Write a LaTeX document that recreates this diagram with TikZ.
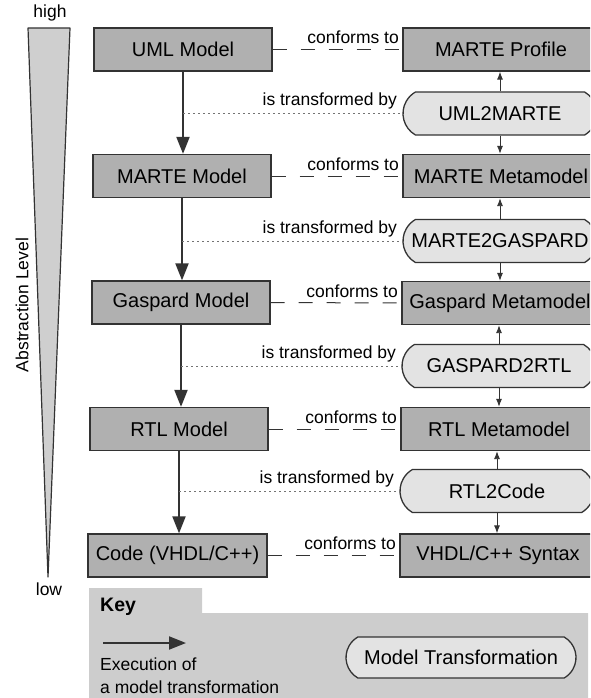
\documentclass[tikz,border=0pt]{standalone}
\usepackage{fontspec}
\setmainfont{Liberation Sans}
\usetikzlibrary{arrows.meta,shapes.misc}
\definecolor{boxgray}{HTML}{B0B0B0}
\definecolor{transgray}{HTML}{E3E3E3}
\definecolor{keygray}{HTML}{CDCDCD}
\definecolor{trigray}{HTML}{CFCFCF}
\definecolor{ink}{HTML}{333333}
\begin{document}
\begin{tikzpicture}[x=1pt,y=-1pt,
  font=\fontsize{20}{23}\selectfont,
  modelbox/.style={draw=ink, line width=1.3pt, fill=boxgray, minimum width=178pt, minimum height=43pt, inner sep=0pt},
  metabox/.style={modelbox, minimum width=196pt},
  transbox/.style={draw=ink, line width=1.3pt, fill=transgray, rounded rectangle, rounded rectangle arc length=120, minimum width=194pt, minimum height=43pt, inner sep=0pt},
  lbl/.style={font=\fontsize{17.5}{20}\selectfont, inner sep=0pt},
  exec/.style={draw=ink, line width=2pt, -{Triangle[length=17pt,width=13pt]}},
  meta/.style={draw=ink, line width=0.9pt, -{Latex[length=8pt,width=6pt]}},
  conf/.style={draw=ink, line width=1pt, dash pattern=on 14pt off 14pt},
  tdot/.style={draw=black!55, line width=1pt, dash pattern=on 2pt off 3pt},
]
\useasboundingbox (0,0) rectangle (590,698);
\clip (0,0) rectangle (590,698);

% abstraction scale
\draw[draw=ink, fill=trigray, line width=1.2pt, line join=round] (28,28) -- (70,28) -- (48,577) -- cycle;
\node[lbl] (hi) at (50,13) {high};
\node[lbl] (lo) at (49,589) {low};
\node[lbl, rotate=90] (abs) at (22,305) {Abstraction Level};

% key panel
\fill[keygray] (89,588) -- (202,588) -- (202,613) -- (588,613) -- (588,698) -- (89,698) -- cycle;
\node[anchor=base west, inner sep=0pt, font=\bfseries\fontsize{19.5}{22}\selectfont] (key) at (100,611) {Key};
\coordinate (ka) at (103,643);
\coordinate (kb) at (186,643);
\draw[exec] (ka) -- (kb);
\node[lbl, anchor=base west] (ex1) at (100,670) {Execution of};
\node[lbl, anchor=base west] (ex2) at (100,693) {a model transformation};
\node[transbox, minimum width=230pt, minimum height=41pt] (mt) at (461,657.5) {Model Transformation};

% models
\node[modelbox] (uml) at (183,49.5) {UML Model};
\node[modelbox] (marte) at (182,176) {MARTE Model};
\node[modelbox] (gasp) at (181,302.5) {Gaspard Model};
\node[modelbox] (rtl) at (179,429) {RTL Model};
\node[modelbox, minimum width=179pt] (code) at (177.5,555.5) {Code (VHDL/C++)};

% metamodels and transformations
\node[metabox] (prof) at (501,49.5) {MARTE Profile};
\node[transbox] (t1) at (500,113.5) {UML2MARTE};
\node[metabox] (mmm) at (501,176) {MARTE Metamodel};
\node[transbox] (t2) at (500,241) {MARTE2GASPARD};
\node[metabox] (gmm) at (500,303) {Gaspard Metamodel};
\node[transbox] (t3) at (499,366) {GASPARD2RTL};
\node[metabox] (rmm) at (499,429) {RTL Metamodel};
\node[transbox] (t4) at (497,491) {RTL2Code};
\node[metabox] (vhdl) at (498,555.5) {VHDL/C++ Syntax};

% execution arrows
\draw[exec] (uml.south) -- (uml.south |- marte.north);
\draw[exec] (marte.south) -- (marte.south |- gasp.north);
\draw[exec] (gasp.south) -- (gasp.south |- rtl.north);
\draw[exec] (rtl.south) -- (rtl.south |- code.north);

% metamodel arrows
\draw[meta] (t1.north) -- (t1.north |- prof.south);
\draw[meta] (t1.south) -- (t1.south |- mmm.north);
\draw[meta] (t2.north) -- (t2.north |- mmm.south);
\draw[meta] (t2.south) -- (t2.south |- gmm.north);
\draw[meta] (t3.north) -- (t3.north |- gmm.south);
\draw[meta] (t3.south) -- (t3.south |- rmm.north);
\draw[meta] (t4.north) -- (t4.north |- rmm.south);
\draw[meta] (t4.south) -- (t4.south |- vhdl.north);

% is transformed by
\draw[tdot] (uml.south |- t1.west) -- (t1.west) node[lbl, anchor=base east, xshift=-5pt, yshift=8pt] {is transformed by};
\draw[tdot] (marte.south |- t2.west) -- (t2.west) node[lbl, anchor=base east, xshift=-5pt, yshift=8pt] {is transformed by};
\draw[tdot] (gasp.south |- t3.west) -- (t3.west) node[lbl, anchor=base east, xshift=-5pt, yshift=8pt] {is transformed by};
\draw[tdot] (rtl.south |- t4.west) -- (t4.west) node[lbl, anchor=base east, xshift=-5pt, yshift=8pt] {is transformed by};

% conforms to
\draw[conf] (uml.east) -- (prof.west) node[lbl, anchor=base east, xshift=-3pt, yshift=6pt] {conforms to};
\draw[conf] (marte.east) -- (mmm.west) node[lbl, anchor=base east, xshift=-3pt, yshift=6pt] {conforms to};
\draw[conf] (gasp.east) -- (gmm.west) node[lbl, anchor=base east, xshift=-3pt, yshift=6pt] {conforms to};
\draw[conf] (rtl.east) -- (rmm.west) node[lbl, anchor=base east, xshift=-3pt, yshift=6pt] {conforms to};
\draw[conf] (code.east) -- (vhdl.west) node[lbl, anchor=base east, xshift=-3pt, yshift=6pt] {conforms to};
\end{tikzpicture}
\end{document}
